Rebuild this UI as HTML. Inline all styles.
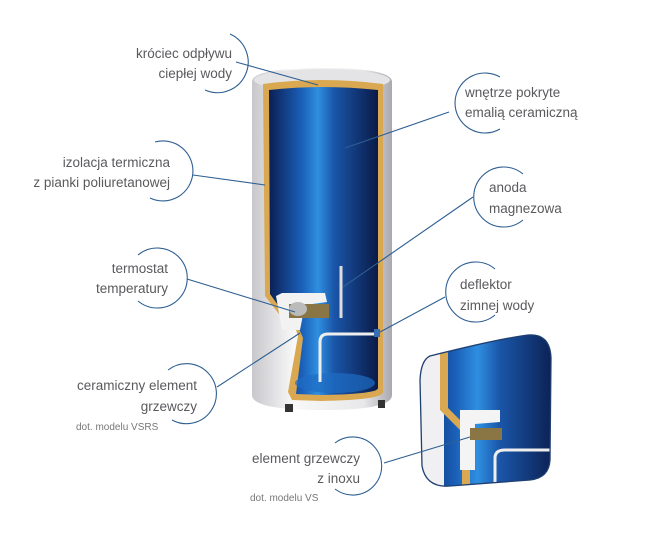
<!DOCTYPE html>
<html><head><meta charset="utf-8"><style>
html,body{margin:0;padding:0;background:#fff;}
svg{display:block}
text{font-family:"Liberation Sans",sans-serif;fill:#5a5a5e;font-size:13.5px}
.s{font-size:10px;fill:#777}
</style></head><body>
<svg width="646" height="535" viewBox="0 0 646 535" xmlns="http://www.w3.org/2000/svg">
<defs>
<linearGradient id="blue" x1="0" x2="1" y1="0" y2="0">
<stop offset="0" stop-color="#0b1f55"/><stop offset="0.3" stop-color="#1a5fb8"/><stop offset="0.45" stop-color="#2f8fe0"/><stop offset="0.6" stop-color="#1a55a8"/><stop offset="1" stop-color="#0a1a48"/></linearGradient>
<linearGradient id="white" x1="0" x2="1"><stop offset="0" stop-color="#c8c8cc"/><stop offset="0.3" stop-color="#f8f8f8"/><stop offset="0.8" stop-color="#e8e8ea"/><stop offset="1" stop-color="#a8a8ae"/></linearGradient>
<clipPath id="ic"><path d="M430,356 C470,346 505,338 528,335 Q550,333 551,358 L550,460 Q549,478 530,480 L450,486 Q426,488 422,466 L420,380 Q421,360 430,356Z"/></clipPath>
</defs>
<!-- tank outer -->
<path d="M252,82 Q252,68 322,68 Q392,68 392,82 L392,395 Q392,410 322,410 Q252,410 252,395Z" fill="url(#white)"/>
<ellipse cx="322" cy="80" rx="68" ry="11" fill="#e4e4e6"/>
<rect x="285" y="404" width="8" height="8" fill="#333"/><rect x="378" y="400" width="7" height="8" fill="#333"/>
<!-- gold -->
<path d="M263,84 Q322,76 383,84 L383,392 Q383,400 322,401 L292,400 L288,392 L298,336 L296,330 L282,318 L265,296Z" fill="#d9a850"/>
<!-- blue -->
<path d="M269,90 Q322,84 378,90 L378,388 Q378,394 322,395 L296,394 L303,338 L296,322 L283,312 L270,294Z" fill="url(#blue)"/>
<ellipse cx="335" cy="383" rx="40" ry="10" fill="#1e6cc4" opacity="0.7"/>
<!-- bracket & heating -->
<path d="M276,296 L282,293 L325,293 L327,302 L305,305 L300,330 L282,330Z" fill="#f2f2f2"/>
<rect x="289" y="304" width="40" height="14" fill="#8a7545"/>
<ellipse cx="298" cy="309" rx="9" ry="7" fill="#bbb"/>
<path d="M341,266 L341,318" stroke="#ddd" stroke-width="3"/>
<path d="M320,382 L320,342 Q320,334 328,334 L376,334" stroke="#eee" stroke-width="3" fill="none"/>
<rect x="374" y="329" width="6" height="8" fill="#3a6eb0"/>
<!-- inset -->
<g clip-path="url(#ic)">
<rect x="410" y="330" width="150" height="160" fill="url(#blue)"/>
<rect x="410" y="330" width="34" height="160" fill="#f0f0f2"/>
<path d="M440,330 L440,410 L462,432 L462,490 L470,490 L470,430 L448,408 L448,330Z" fill="#d9a850"/>
<path d="M460,410 L500,410 L500,422 L475,424 L475,470 L460,470Z" fill="#f4f4f4"/>
<rect x="470" y="428" width="32" height="12" fill="#8a7545"/>
<path d="M495,490 L495,458 Q495,450 505,450 L560,450" stroke="#eee" stroke-width="3" fill="none"/>
</g>
<path d="M430,356 C470,346 505,338 528,335 Q550,333 551,358 L550,460 Q549,478 530,480 L450,486 Q426,488 422,466 L420,380 Q421,360 430,356Z" fill="none" stroke="#1f3f70" stroke-width="1.3"/>
<!-- leader lines -->
<g stroke="#2e5f92" stroke-width="1.1" fill="none">
<path d="M230,34 A30,30 0 1 1 205,90"/><line x1="236" y1="62" x2="318" y2="85"/>
<path d="M155,142 A30,30 0 1 1 150,198"/><line x1="193" y1="175" x2="265" y2="185"/>
<path d="M500,77 A30,30 0 1 0 500,129"/><line x1="449" y1="112" x2="345" y2="148"/>
<path d="M523,174 A30,30 0 1 0 523,220"/><line x1="473" y1="197" x2="343" y2="287"/>
<path d="M495,269 A30,30 0 1 0 495,315"/><line x1="445" y1="297" x2="380" y2="332"/>
<path d="M138,255 A30,30 0 1 1 138,301"/><line x1="187" y1="279" x2="295" y2="312"/>
<path d="M168,370 A30,30 0 1 1 172,420"/><line x1="217" y1="387" x2="300" y2="333"/>
<path d="M335,443 A29,29 0 1 1 335,489"/><line x1="384" y1="463" x2="470" y2="437"/>
</g>
<!-- labels -->
<g text-anchor="end">
<text x="232" y="58">króciec odpływu</text><text x="232" y="78">ciepłej wody</text>
<text x="170" y="167">izolacja termiczna</text><text x="170" y="187">z pianki poliuretanowej</text>
<text x="168" y="273">termostat</text><text x="168" y="293">temperatury</text>
<text x="197" y="390">ceramiczny element</text><text x="197" y="411">grzewczy</text>
<text x="360" y="463">element grzewczy</text><text x="360" y="483">z inoxu</text>
</g>
<text x="465" y="97">wnętrze pokryte</text><text x="465" y="117">emalią ceramiczną</text>
<text x="489" y="192">anoda</text><text x="489" y="213">magnezowa</text>
<text x="460" y="289">deflektor</text><text x="460" y="310">zimnej wody</text>
<text class="s" x="76" y="430">dot. modelu VSRS</text>
<text class="s" x="250" y="501">dot. modelu VS</text>
</svg>
</body></html>
